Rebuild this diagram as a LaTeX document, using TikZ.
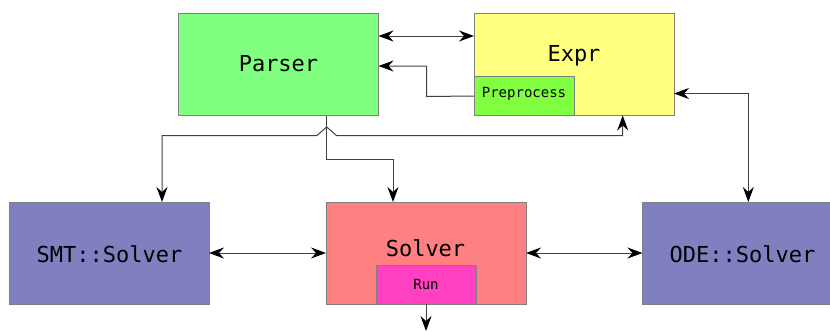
\documentclass[tikz,border=0pt]{standalone}
\usepackage{fontspec}
\setmonofont{DejaVu Sans Mono}
\usetikzlibrary{arrows.meta,calc}
\definecolor{cparser}{HTML}{80FF80}
\definecolor{cexpr}{HTML}{FFFF80}
\definecolor{cpre}{HTML}{80FF40}
\definecolor{csolv}{HTML}{8080C0}
\definecolor{csolver}{HTML}{FF8080}
\definecolor{crun}{HTML}{FF40C0}
\definecolor{cborder}{HTML}{808080}
\definecolor{cline}{HTML}{404040}
\tikzset{
  box/.style={draw=cborder, line width=0.8pt, anchor=north west, inner sep=0pt, outer sep=0pt, minimum width=200pt, minimum height=102pt},
  subbox/.style={draw=cborder, line width=0.8pt, anchor=north west, inner sep=0pt, outer sep=0pt, minimum width=100pt, minimum height=39pt},
  bigtxt/.style={font=\ttfamily\fontsize{22}{25}\selectfont, inner sep=0pt},
  smalltxt/.style={font=\ttfamily\fontsize{14}{16}\selectfont, inner sep=0pt},
  conn/.style={draw=cline, line width=1pt},
  >={Stealth[length=15pt,width=11pt,inset=5pt,color=black]}
}
\begin{document}
\begin{tikzpicture}[x=1pt,y=-1pt]
\useasboundingbox (0,0) rectangle (830,332);
\clip (0,0) rectangle (830,332);
% boxes
\node[box, fill=cparser] (parser) at (178.5,13.5) {};
\node[box, fill=cexpr] (expr) at (474,13.5) {};
\node[subbox, fill=cpre] (pre) at (474,76.5) {};
\node[box, fill=csolv] (smt) at (9,202) {};
\node[box, fill=csolver] (solver) at (326,202) {};
\node[subbox, fill=crun] (run) at (376,265) {};
\node[box, fill=csolv] (ode) at (642.5,202) {};
% texts
\node[bigtxt] (tparser) at (278.5,64) {Parser};
\node[bigtxt] (texpr) at (574,56) {Expr};
\node[smalltxt] (tpre) at (524,94) {Preprocess};
\node[bigtxt] (tsmt) at (109.5,254) {SMT::Solver};
\node[bigtxt] (tsolver) at (425.5,248) {Solver};
\node[smalltxt] (trun) at (426,284.5) {Run};
\node[bigtxt] (tode) at (742.5,254) {ODE::Solver};
% connectors
\draw[conn,<->] ($(parser.north east)+(0,22.5)$) -- ($(expr.north west)+(0,22.5)$);
\draw[conn,->] (pre.west) -- (426.7,96.5) |- ($(parser.north east)+(0,52.5)$);
\draw[conn,<->] ($(smt.north west)+(153,0)$) |- (316.7,135.7) -- (326.7,127) -- (336.7,135.7) -| ($(expr.south west)+(148.7,0)$);
\draw[conn,->] ($(parser.south west)+(148.2,0)$) -- (326.7,159.3) -| ($(solver.north west)+(67,0)$);
\draw[conn,<->] (smt.east) -- (solver.west);
\draw[conn,<->] (solver.east) -- (ode.west);
\draw[conn,<->] ($(expr.north east)+(0,80)$) -| ($(ode.north west)+(105.8,0)$);
\coordinate (runout) at (426,331);
\draw[conn,->] (run.south) -- (runout);
\end{tikzpicture}
\end{document}
